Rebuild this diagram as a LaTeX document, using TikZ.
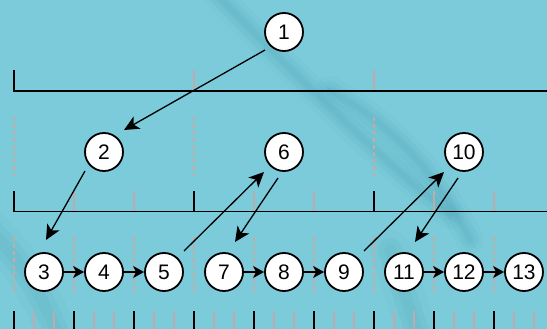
\documentclass[tikz,border=0pt]{standalone}
\usepackage{fontspec}
\setmainfont{Liberation Sans}
\usetikzlibrary{arrows.meta,calc}
\definecolor{bgc}{RGB}{124,203,218}
\definecolor{streak}{RGB}{60,145,172}
\definecolor{tickgrey}{RGB}{188,172,172}
\definecolor{dashgrey}{RGB}{205,168,160}
\begin{document}
\begin{tikzpicture}[x=1pt,y=-1pt,
  num/.style={circle,draw=black,line width=1.8pt,fill=white,minimum size=38pt,inner sep=0pt,font=\fontsize{21}{21}\selectfont},
  arr/.style={line width=1.3pt,-{Stealth[length=15pt,width=14pt,inset=4pt]}},
  rowarr/.style={line width=1.3pt,-{Stealth[length=11pt,width=12pt,inset=3pt]}},
  axis/.style={line width=1.8pt,line join=miter},
  btick/.style={line width=1.8pt},
  gtick/.style={line width=1.4pt,draw=tickgrey},
  gdash/.style={line width=1.2pt,draw=dashgrey,dash pattern=on 4pt off 3pt}]
\useasboundingbox (0,0) rectangle (547,329);
\fill[bgc] (0,0) rectangle (547,329);
% soft background streaks
\begin{scope}
\clip (0,0) rectangle (547,329);
\foreach \w/\o in {28/0.05,18/0.07,10/0.09,5/0.08}{
  \draw[streak,line width=\w pt,opacity=\o,line cap=round] (212,-10) .. controls (290,70) and (360,140) .. (450,215);
  \draw[streak,line width=\w pt,opacity=\o,line cap=round] (330,90) .. controls (400,130) and (440,180) .. (470,240);
}
\foreach \w/\o in {40/0.05,24/0.07,12/0.08}{
  \draw[streak,line width=\w pt,opacity=\o,line cap=round] (-10,230) .. controls (20,260) and (40,290) .. (60,340);
  \draw[streak,line width=\w pt,opacity=\o,line cap=round] (390,250) .. controls (400,280) and (410,310) .. (420,340);
}
\end{scope}
% top axis
\draw[axis] (14,70) |- (550,91);
\foreach \x in {194,374} \draw[gtick] (\x,70) -- (\x,90);
% second level dashed guides
\foreach \x in {14,194,374} \draw[gdash] (\x,117) -- (\x,176);
% second axis
\draw[axis] (14,191) |- (550,211.5);
\foreach \x in {194,374} \draw[btick] (\x,191) -- (\x,211);
\foreach \x in {74,134,254,314,434,494} \draw[gtick] (\x,191) -- (\x,210.5);
% third level dashed guides
\foreach \x in {14,74,...,494} \draw[gdash] (\x,237) -- (\x,294);
% bottom ticks
\foreach \x in {14,74,...,554} \draw[btick] (\x,311) -- (\x,332);
\foreach \x in {34,94,...,514} \draw[gtick] (\x,311) -- (\x,332);
\foreach \x in {54,114,...,534} \draw[gtick] (\x,311) -- (\x,332);
% nodes
\node[num] (n1) at (284,32) {1};
\node[num] (n2) at (104,152) {2};
\node[num] (n6) at (284,152) {6};
\node[num] (n10) at (464,152) {10};
\node[num] (n3) at (44,272) {3};
\node[num] (n4) at (104,272) {4};
\node[num] (n5) at (164,272) {5};
\node[num] (n7) at (224,272) {7};
\node[num] (n8) at (284,272) {8};
\node[num] (n9) at (344,272) {9};
\node[num] (n11) at (404,272) {11};
\node[num] (n12) at (464,272) {12};
\node[num] (n13) at (524,272) {13};
% connectors
\draw[arr] ($(n1)+(-19,18)$) -- ($(n2)+(20,-22)$);
\draw[arr] ($(n2)+(-19,19)$) -- ($(n3)+(2,-32)$);
\draw[arr] ($(n5)+(20,-21)$) -- ($(n6)+(-20,20)$);
\draw[arr] ($(n6)+(-6,26)$) -- ($(n7)+(11,-30)$);
\draw[arr] ($(n9)+(20,-21)$) -- ($(n10)+(-20,20)$);
\draw[arr] ($(n10)+(-6,26)$) -- ($(n11)+(11,-30)$);
\draw[rowarr] (n3) -- (n4);
\draw[rowarr] (n4) -- (n5);
\draw[rowarr] (n7) -- (n8);
\draw[rowarr] (n8) -- (n9);
\draw[rowarr] (n11) -- (n12);
\draw[rowarr] (n12) -- (n13);
\end{tikzpicture}
\end{document}
